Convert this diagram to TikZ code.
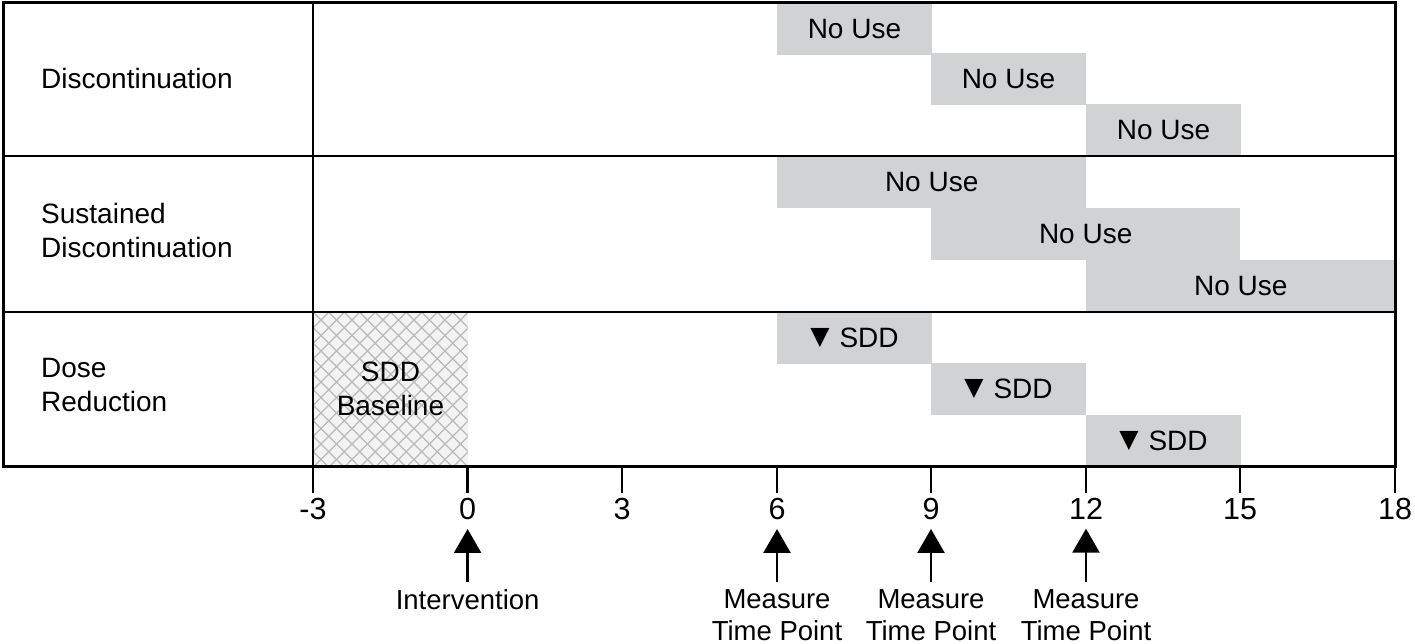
\documentclass[tikz,border=0pt]{standalone}
\usepackage{fontspec}
\setmainfont{Liberation Sans}
\newfontfamily\symfont{DejaVu Sans}
\usetikzlibrary{arrows.meta,positioning,calc}
\definecolor{bargray}{RGB}{209,210,212}
\definecolor{hatchbg}{RGB}{243,243,243}
\definecolor{hatchln}{RGB}{185,185,185}
\newcommand{\dnarrow}{\raisebox{3pt}{\symfont\fontsize{25}{34}\selectfont ▼}\hspace{10pt}}

\begin{document}
\begin{tikzpicture}[x=1pt, y=-1pt,
  bar/.style={fill=bargray, inner sep=0pt, anchor=north west, minimum height=51.5pt,
              font=\fontsize{28}{34}\selectfont},
  rowlbl/.style={anchor=west, align=left, inner sep=0pt, font=\fontsize{28}{34}\selectfont},
  ticklbl/.style={anchor=north, inner sep=0pt, font=\fontsize{30.5}{34}\selectfont},
  evtlbl/.style={anchor=north, align=center, inner sep=0pt, font=\fontsize{27.5}{32}\selectfont},
  hatchbox/.style={fill=hatchbg, inner sep=0pt, anchor=north west, align=center,
                   font=\fontsize{28}{34}\selectfont,
                   path picture={
                     \foreach \k in {-11,...,21} {
                       \draw[hatchln, line width=1.2pt] ($(path picture bounding box.north west)+(\k*15.5pt,0pt)$) -- ++(170pt,-170pt);
                       \draw[hatchln, line width=1.2pt] ($(path picture bounding box.north west)+(\k*15.5pt,0pt)$) -- ++(-170pt,-170pt);
                     }}},
  rule/.style={line width=2.5pt},
  arr/.style={-{Triangle[width=27pt,length=24pt]}, line width=2.5pt}
]
  \path[fill=white, use as bounding box] (0,0) rectangle (1415,644);

  \node[bar, minimum width=154.5pt] (dc1) at (777,3) {No Use};
  \node[bar, minimum width=154.5pt] (dc2) at (931,53) {No Use};
  \node[bar, minimum width=154.5pt] (dc3) at (1086,104) {No Use};
  \node[bar, minimum width=309pt] (sd1) at (777,156) {No Use};
  \node[bar, minimum width=309pt] (sd2) at (931,208) {No Use};
  \node[bar, minimum width=309pt] (sd3) at (1086,260) {No Use};
  \node[bar, minimum width=154.5pt] (dr1) at (777,312) {\dnarrow SDD};
  \node[bar, minimum width=154.5pt] (dr2) at (931,363) {\dnarrow SDD};
  \node[bar, minimum width=154.5pt] (dr3) at (1086,415) {\dnarrow SDD};
  \node[hatchbox, minimum width=154.5pt, minimum height=154pt] (base) at (313,312) {SDD\\Baseline};

  \node[rowlbl] (disc) at (41,78) {Discontinuation};
  \node[rowlbl] (sust) at (41,230) {Sustained\\Discontinuation};
  \node[rowlbl] (dose) at (41,385) {Dose\\Reduction};

  \draw[line width=3pt] (3,3) rectangle (1395,466);
  \draw[rule] (3,156) -- (1395,156);
  \draw[rule] (3,312) -- (1395,312);
  \draw[rule] (313,3) -- (313,466);

  \foreach \n/\x/\lbl in {a/313/-3, b/467.6/0, c/622/3, d/777/6, e/931/9, f/1086/12, g/1240/15, h/1395/18} {
    \draw[rule] (\x,466) -- (\x,493);
    \node[ticklbl] (t\n) at (\x,498) {\lbl};
  }

  \node[evtlbl] (intv) at (467.6,589) {Intervention};
  \node[evtlbl] (mt6) at (777,589) {Measure\\Time Point};
  \node[evtlbl] (mt9) at (931,589) {Measure\\Time Point};
  \node[evtlbl] (mt12) at (1086,589) {Measure\\Time Point};

  \draw[arr, shorten <=7pt, shorten >=9pt] (intv.north) -- (tb.south);
  \draw[arr, shorten <=7pt, shorten >=9pt] (mt6.north) -- (td.south);
  \draw[arr, shorten <=7pt, shorten >=9pt] (mt9.north) -- (te.south);
  \draw[arr, shorten <=7pt, shorten >=9pt] (mt12.north) -- (tf.south);
\end{tikzpicture}
\end{document}
